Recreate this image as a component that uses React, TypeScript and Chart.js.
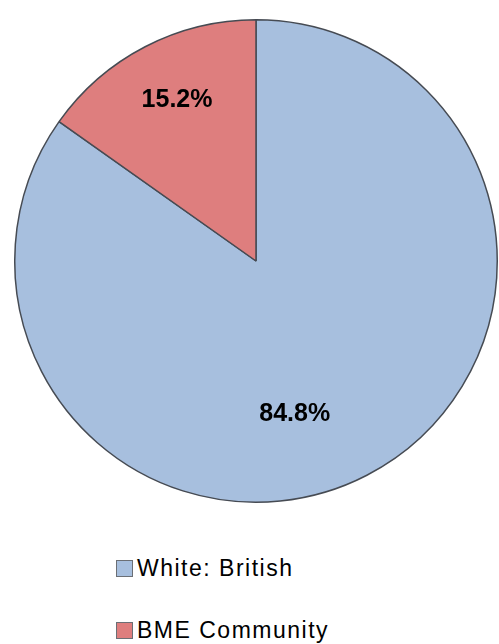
import React, { useEffect, useRef } from "react";
import { Chart, registerables } from "chart.js";

Chart.register(...registerables);

const categories = ["White: British", "BME Community"];
const values = [84.8, 15.2];
const valueLabels = ["84.8%", "15.2%"];
const colors = ["#A7BFDE", "#DE7E7E"];
// label placement: fraction of radius along slice bisector, then pixel nudge
const labelFraction = [0.62, 0.73];
const labelNudge = [[-30, 20], [2, -4]];

const labelPlugin = {
  id: "sliceLabels",
  afterDatasetsDraw(chart: any) {
    const ctx = chart.ctx;
    const meta = chart.getDatasetMeta(0);
    ctx.save();
    ctx.font = "bold 25px 'Liberation Sans', Arial, sans-serif";
    ctx.fillStyle = "#000";
    ctx.textAlign = "center";
    ctx.textBaseline = "middle";
    meta.data.forEach((arc: any, i: number) => {
      const p = arc.getProps(["x", "y", "startAngle", "endAngle", "outerRadius"], true);
      const mid = (p.startAngle + p.endAngle) / 2;
      const r = p.outerRadius * labelFraction[i];
      const x = p.x + Math.cos(mid) * r + labelNudge[i][0];
      const y = p.y + Math.sin(mid) * r + labelNudge[i][1];
      ctx.fillText(valueLabels[i], x, y);
    });
    ctx.restore();
  },
};

export default function App() {
  const ref = useRef<HTMLCanvasElement | null>(null);
  useEffect(() => {
    if (!ref.current) return;
    const chart = new Chart(ref.current, {
      type: "pie",
      data: {
        labels: categories,
        datasets: [
          {
            data: values,
            backgroundColor: colors,
            borderColor: "#464b53",
            borderWidth: 1.5,
            hoverOffset: 0,
          },
        ],
      },
      options: {
        responsive: false,
        animation: false,
        layout: { padding: { left: 14, right: 1, top: 19, bottom: 19 } },
        plugins: {
          legend: { display: false },
          tooltip: { enabled: false },
        },
      },
      plugins: [labelPlugin],
    });
    return () => chart.destroy();
  }, []);

  const legendText: React.CSSProperties = {
    position: "absolute",
    left: 137,
    fontFamily: "'Liberation Sans', Arial, sans-serif",
    fontSize: 23,
    lineHeight: "23px",
    letterSpacing: "1.5px",
    color: "#000",
    whiteSpace: "nowrap",
  };
  const marker = (c: string, top: number): React.CSSProperties => ({
    position: "absolute",
    left: 116,
    top,
    width: 15,
    height: 15,
    background: c,
    border: "1px solid #6b6f75",
  });

  return (
    <div style={{ position: "fixed", left: 0, top: 0, width: 499, height: 644, background: "#fff", overflow: "hidden" }}>
      <canvas ref={ref} width={499} height={522} style={{ position: "absolute", left: 0, top: 0 }} />
      <div style={marker(colors[0], 560)} />
      <div style={{ ...legendText, top: 557 }}>{categories[0]}</div>
      <div style={marker(colors[1], 622)} />
      <div style={{ ...legendText, top: 619 }}>{categories[1]}</div>
    </div>
  );
}
